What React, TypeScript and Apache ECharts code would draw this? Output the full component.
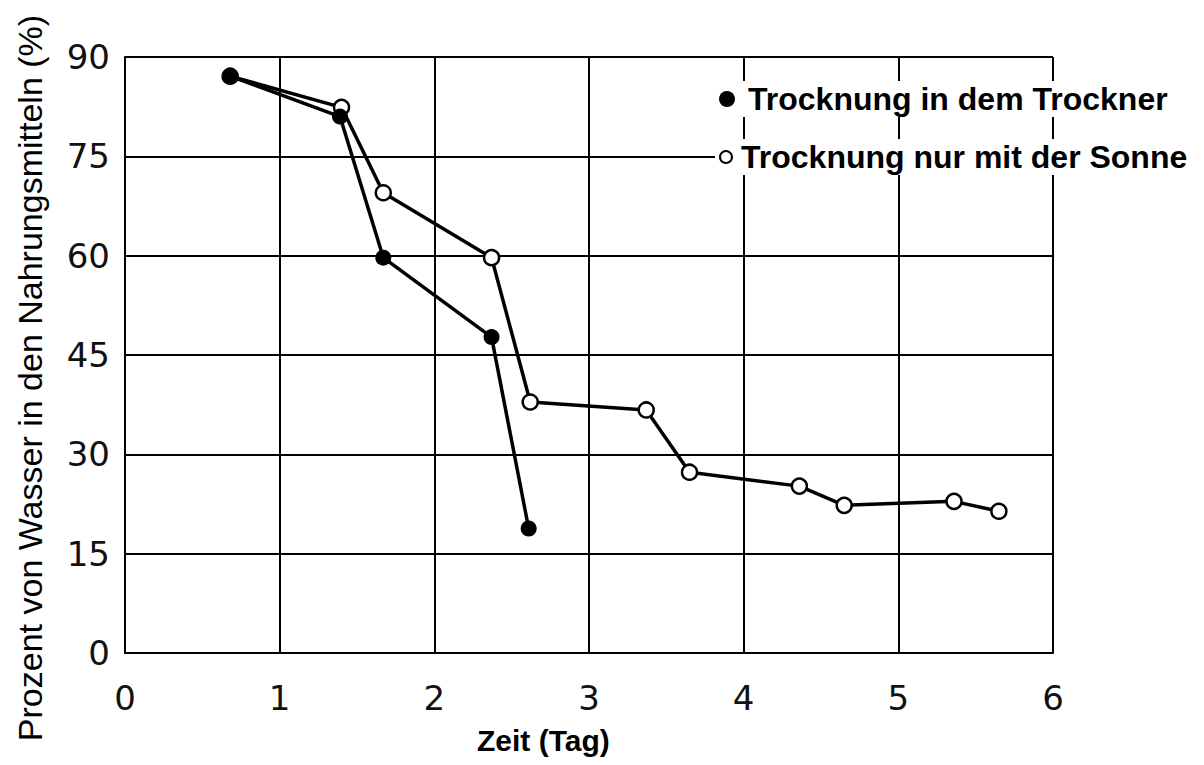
import React, { useEffect, useRef } from "react";
import * as echarts from "echarts";

const dryerName = "Trocknung in dem Trockner";
const sunName = "Trocknung nur mit der Sonne";

const dryerX = [0.68, 1.39, 1.67, 2.37, 2.61];
const dryerY = [87.1, 81.0, 59.7, 47.7, 18.8];

const sunX = [0.68, 1.4, 1.67, 2.37, 2.62, 3.37, 3.65, 4.36, 4.65, 5.36, 5.65];
const sunY = [87.1, 82.4, 69.5, 59.7, 37.9, 36.7, 27.3, 25.2, 22.3, 22.9, 21.4];

const xTicks = [0, 1, 2, 3, 4, 5, 6];
const yTicks = [0, 15, 30, 45, 60, 75, 90];

const yTitle = "Prozent von Wasser in den Nahrungsmitteln (%)";
const xTitle = "Zeit (Tag)";

export default function App() {
  const ref = useRef<HTMLDivElement>(null);
  useEffect(() => {
    const chart = echarts.init(ref.current!, null, { renderer: "svg" });
    const font = "'Liberation Sans', Arial, sans-serif";
    const tickFont = "'DejaVu Sans', sans-serif";
    chart.setOption({
      animation: false,
      backgroundColor: "#fff",
      grid: { left: 125, right: 151, top: 57, bottom: 112 },
      xAxis: {
        type: "value",
        min: xTicks[0],
        max: xTicks[xTicks.length - 1],
        interval: 1,
        axisLine: { show: true, lineStyle: { color: "#000", width: 2 } },
        axisTick: { show: false },
        splitLine: { show: true, lineStyle: { color: "#000", width: 2 } },
        axisLabel: { color: "#111", fontSize: 34, fontFamily: tickFont, margin: 28 },
      },
      yAxis: {
        type: "value",
        min: yTicks[0],
        max: yTicks[yTicks.length - 1],
        interval: 15,
        axisLine: { show: true, lineStyle: { color: "#000", width: 2 } },
        axisTick: { show: false },
        splitLine: { show: true, lineStyle: { color: "#000", width: 2 } },
        axisLabel: { color: "#111", fontSize: 34, fontFamily: tickFont, margin: 15 },
      },
      legend: [
        {
          data: [{ name: dryerName, icon: "circle", itemStyle: { color: "#000", borderWidth: 0 } }],
          left: 715,
          top: 81,
          itemWidth: 16,
          itemHeight: 16,
          backgroundColor: "#fff",
          padding: [2, 4, 2, 4],
          textStyle: { color: "#000", fontSize: 32, fontWeight: "bold", fontFamily: font, padding: [0, 0, 0, 8] },
        },
        {
          data: [
            { name: sunName, icon: "circle", itemStyle: { color: "#fff", borderColor: "#000", borderWidth: 2 } },
          ],
          left: 715,
          top: 139,
          itemWidth: 12,
          itemHeight: 12,
          backgroundColor: "#fff",
          padding: [2, 4, 2, 4],
          textStyle: { color: "#000", fontSize: 32, fontWeight: "bold", fontFamily: font, padding: [0, 0, 0, 4] },
        },
      ],
      graphic: [
        {
          type: "text",
          x: 30,
          y: 378,
          rotation: Math.PI / 2,
          style: {
            text: yTitle,
            fill: "#000",
            font: `34px ${font}`,
            align: "center",
            verticalAlign: "middle",
          },
        },
        {
          type: "text",
          x: 477,
          y: 740,
          style: { text: xTitle, fill: "#000", font: `bold 30px ${font}`, align: "left", verticalAlign: "middle" },
        },
      ],
      series: [
        {
          name: sunName,
          type: "line",
          data: sunX.map((x, i) => [x, sunY[i]]),
          symbol: "circle",
          symbolSize: 15,
          lineStyle: { color: "#000", width: 3.5 },
          itemStyle: { color: "#fff", borderColor: "#000", borderWidth: 2.5 },
          z: 3,
        },
        {
          name: dryerName,
          type: "line",
          data: dryerX.map((x, i) => [x, dryerY[i]]),
          symbol: "circle",
          symbolSize: 16,
          lineStyle: { color: "#000", width: 3.5 },
          itemStyle: { color: "#000", borderColor: "#000", borderWidth: 0 },
          z: 4,
        },
      ],
    });
    return () => chart.dispose();
  }, []);
  return <div ref={ref} style={{ width: 1204, height: 765, margin: -8 }} />;
}
